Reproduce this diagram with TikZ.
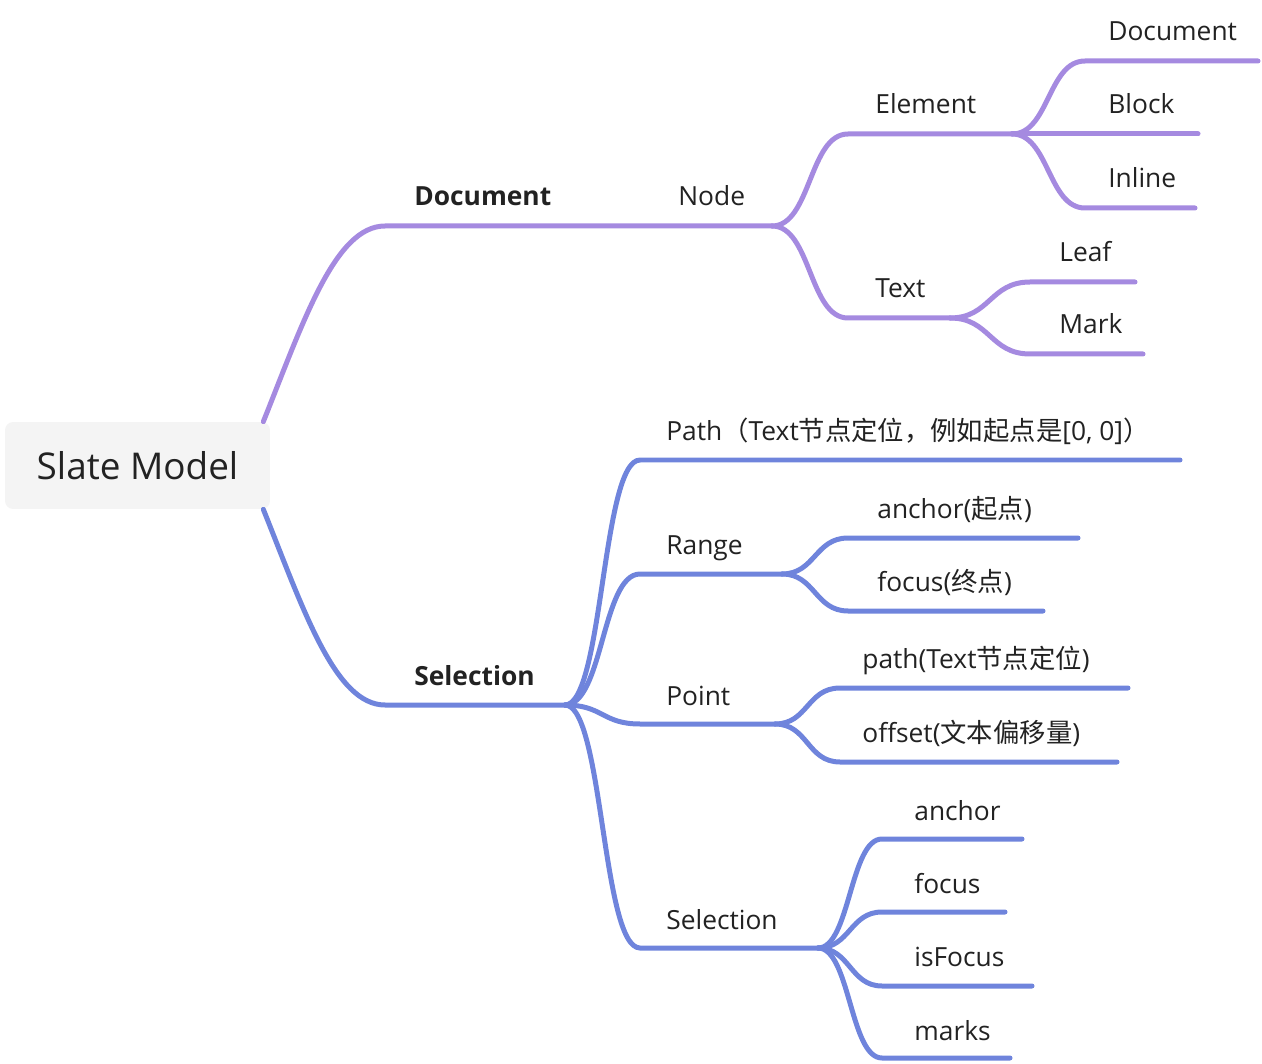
\documentclass[tikz,border=0pt]{standalone}
\usepackage{fontspec}
\usepackage{tikz}
\setmainfont{Open Sans}
\newfontfamily\cjk{Noto Sans CJK SC}
\definecolor{docpurple}{HTML}{A58AE0}
\definecolor{selblue}{HTML}{6F84DC}
\definecolor{rootgray}{HTML}{F4F4F4}
\definecolor{inkgray}{HTML}{222222}

\begin{document}
\begin{tikzpicture}[x=0.02cm, y=-0.02cm,
    docline/.style = {draw=docpurple, line width=0.1cm, line cap=round},
    selline/.style = {draw=selblue, line width=0.1cm, line cap=round},
    topic/.style = {anchor=base west, inner sep=0pt, text=inkgray, font=\fontsize{15}{18}\selectfont},
    main topic/.style = {topic, font=\bfseries\fontsize{15}{18}\selectfont}]
    \useasboundingbox (0, 0) rectangle (1262, 1064);

    \node [fill=rootgray, rounded corners=0.16cm, minimum width=5.3cm, minimum height=1.74cm,
           text=inkgray, font=\fontsize{21}{24}\selectfont] (root) at (137.5, 465.5) {Slate Model};
    \coordinate (rootT) at ([xshift=-0.14cm]root.north east);
    \coordinate (rootB) at ([xshift=-0.14cm]root.south east);

    % Document
    \coordinate (docS) at (385, 226);
    \coordinate (nodeF) at (772, 226);
    \draw [docline] (rootT) .. controls +(40, -100) and +(-50, 0) .. (docS) -- (nodeF);
    \node [main topic] (document) at (414, 206) {Document};
    \node [topic] (node) at (678, 206) {Node};

    \coordinate (elemS) at (848, 134);
    \coordinate (elemF) at (1012, 134);
    \draw [docline] (nodeF) .. controls +(39, 0) and +(-39, 0) .. (elemS) -- (elemF);
    \node [topic] (element) at (875, 114) {Element};

    \coordinate (textS) at (848, 318);
    \coordinate (textF) at (950, 318);
    \draw [docline] (nodeF) .. controls +(39, 0) and +(-39, 0) .. (textS) -- (textF);
    \node [topic] (text) at (875, 298) {Text};

    \coordinate (elDocS) at (1085, 61);
    \coordinate (elDocE) at (1258, 61);
    \coordinate (blockE) at (1198, 134);
    \coordinate (inlineS) at (1085, 208);
    \coordinate (inlineE) at (1195, 208);
    \draw [docline] (elemF) .. controls +(37, 0) and +(-37, 0) .. (elDocS) -- (elDocE);
    \draw [docline] (elemF) -- (blockE);
    \draw [docline] (elemF) .. controls +(37, 0) and +(-37, 0) .. (inlineS) -- (inlineE);
    \node [topic] (elDoc) at (1108, 41) {Document};
    \node [topic] (block) at (1108, 114) {Block};
    \node [topic] (inline) at (1108, 188) {Inline};

    \coordinate (leafS) at (1030, 282);
    \coordinate (leafE) at (1135, 282);
    \coordinate (markS) at (1030, 354);
    \coordinate (markE) at (1143, 354);
    \draw [docline] (textF) .. controls +(40, 0) and +(-40, 0) .. (leafS) -- (leafE);
    \draw [docline] (textF) .. controls +(40, 0) and +(-40, 0) .. (markS) -- (markE);
    \node [topic] (leaf) at (1059, 262) {Leaf};
    \node [topic] (mark) at (1059, 334) {Mark};

    % Selection
    \coordinate (selS) at (385, 705);
    \coordinate (selF) at (565, 705);
    \draw [selline] (rootB) .. controls +(40, 100) and +(-50, 0) .. (selS) -- (selF);
    \node [main topic] (selection) at (414, 685) {Selection};

    \coordinate (pathS) at (640, 460);
    \coordinate (pathE) at (1180, 460);
    \coordinate (rangeS) at (640, 574);
    \coordinate (rangeF) at (782, 574);
    \coordinate (pointS) at (640, 724);
    \coordinate (pointF) at (775, 724);
    \coordinate (subSelS) at (640, 948);
    \coordinate (subSelF) at (818, 948);
    \draw [selline] (selF) .. controls +(38, 0) and +(-38, 0) .. (pathS) -- (pathE);
    \draw [selline] (selF) .. controls +(38, 0) and +(-38, 0) .. (rangeS) -- (rangeF);
    \draw [selline] (selF) .. controls +(38, 0) and +(-38, 0) .. (pointS) -- (pointF);
    \draw [selline] (selF) .. controls +(38, 0) and +(-38, 0) .. (subSelS) -- (subSelF);
    \node [topic] (path) at (666, 440) {Path{\cjk （}Text{\cjk 节点定位，例如起点是}[0, 0]{\cjk ）}};
    \node [topic] (range) at (666, 554) {Range};
    \node [topic] (point) at (666, 705) {Point};
    \node [topic] (subSel) at (666, 929) {Selection};

    \coordinate (anchorS) at (848, 538);
    \coordinate (anchorE) at (1078, 538);
    \coordinate (focusS) at (848, 611);
    \coordinate (focusE) at (1043, 611);
    \draw [selline] (rangeF) .. controls +(33, 0) and +(-33, 0) .. (anchorS) -- (anchorE);
    \draw [selline] (rangeF) .. controls +(33, 0) and +(-33, 0) .. (focusS) -- (focusE);
    \node [topic] (rangeAnchor) at (877, 518) {anchor({\cjk 起点})};
    \node [topic] (rangeFocus) at (877, 591) {focus({\cjk 终点})};

    \coordinate (ptPathS) at (840, 688);
    \coordinate (ptPathE) at (1128, 688);
    \coordinate (offsetS) at (840, 762);
    \coordinate (offsetE) at (1117, 762);
    \draw [selline] (pointF) .. controls +(33, 0) and +(-33, 0) .. (ptPathS) -- (ptPathE);
    \draw [selline] (pointF) .. controls +(33, 0) and +(-33, 0) .. (offsetS) -- (offsetE);
    \node [topic] (ptPath) at (862, 668) {path(Text{\cjk 节点定位})};
    \node [topic] (offset) at (862, 742) {offset({\cjk 文本偏移量})};

    \coordinate (sAnchorS) at (882, 839);
    \coordinate (sAnchorE) at (1022, 839);
    \coordinate (sFocusS) at (882, 912);
    \coordinate (sFocusE) at (1005, 912);
    \coordinate (isFocusS) at (882, 986);
    \coordinate (isFocusE) at (1032, 986);
    \coordinate (marksS) at (882, 1058);
    \coordinate (marksE) at (1010, 1058);
    \draw [selline] (subSelF) .. controls +(32, 0) and +(-32, 0) .. (sAnchorS) -- (sAnchorE);
    \draw [selline] (subSelF) .. controls +(32, 0) and +(-32, 0) .. (sFocusS) -- (sFocusE);
    \draw [selline] (subSelF) .. controls +(32, 0) and +(-32, 0) .. (isFocusS) -- (isFocusE);
    \draw [selline] (subSelF) .. controls +(32, 0) and +(-32, 0) .. (marksS) -- (marksE);
    \node [topic] (sAnchor) at (914, 820) {anchor};
    \node [topic] (sFocus) at (914, 893) {focus};
    \node [topic] (isFocus) at (914, 966) {isFocus};
    \node [topic] (marks) at (914, 1040) {marks};

\end{tikzpicture}
\end{document}
